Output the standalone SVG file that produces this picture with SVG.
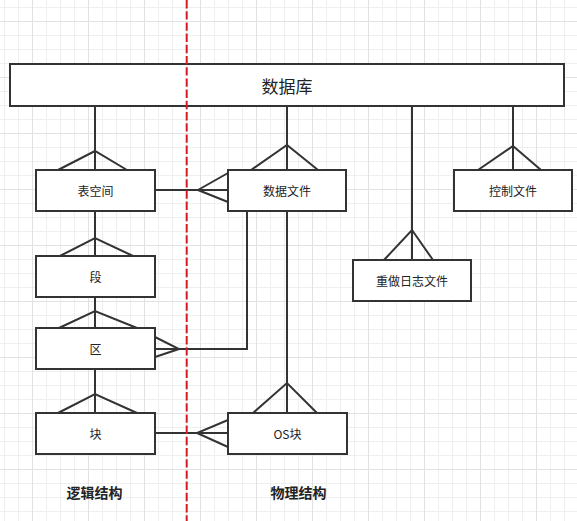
<svg xmlns="http://www.w3.org/2000/svg" width="577" height="521" viewBox="0 0 577 521">
<style>
.box{fill:#ffffff;stroke:#333333;stroke-width:2}
.lbl{font-family:"Noto Sans CJK SC","Microsoft YaHei",sans-serif;font-size:12px;fill:#222222;text-anchor:middle;dominant-baseline:central}
.big{font-size:17px}
.title{font-family:"Noto Sans CJK SC",sans-serif;font-size:14px;font-weight:bold;fill:#222222;text-anchor:middle;dominant-baseline:central}
.conn path{fill:none;stroke:#333333;stroke-width:2;stroke-linejoin:miter}
</style>
<defs>
<pattern id="minor" patternUnits="userSpaceOnUse" x="4" y="7" width="14" height="14">
<path d="M0.5 0V14M0 0.5H14" stroke="#efefef" stroke-width="1" fill="none"/>
</pattern>
<pattern id="major" patternUnits="userSpaceOnUse" x="32" y="21" width="56" height="56">
<path d="M0.5 0V56M0 0.5H56" stroke="#e2e2e2" stroke-width="1" fill="none"/>
</pattern>
</defs>
<rect x="0" y="0" width="577" height="521" fill="#ffffff"/>
<rect x="0" y="0" width="577" height="521" fill="url(#minor)"/>
<rect x="0" y="0" width="577" height="521" fill="url(#major)"/>

<g id="connectors" class="conn">
<path d="M95 106V170M58 170L95 151L127 170"/>
<path d="M287 106V170M251 170L287 145L318 170"/>
<path d="M412 106V260M384 260L412 230L433 260"/>
<path d="M513 106V170M478 170L513 146L541 170"/>
<path d="M155 190H228M228 173L198 190L228 202"/>
<path d="M95 211V256M60 256L95 238L133 256"/>
<path d="M95 297V328M59 328L95 311L137 328"/>
<path d="M95 369V413M58 413L95 394L137 413"/>
<path d="M247 211V349H155M155 337L179 349L155 357"/>
<path d="M287 211V413M253 413L287 383L317 413"/>
<path d="M155 433H228M228 420L197 433L228 447"/>
</g>

<g id="node-db"><rect class="box" x="10" y="64" width="554" height="42"/><text class="lbl big" x="287" y="85">数据库</text></g>
<g id="node-tablespace"><rect class="box" x="36" y="170" width="119" height="41"/><text class="lbl" x="95.5" y="190.5">表空间</text></g>
<g id="node-datafile"><rect class="box" x="228" y="170" width="118" height="41"/><text class="lbl" x="287" y="190.5">数据文件</text></g>
<g id="node-controlfile"><rect class="box" x="454" y="170" width="118" height="41"/><text class="lbl" x="513" y="190.5">控制文件</text></g>
<g id="node-redolog"><rect class="box" x="353" y="260" width="118" height="41"/><text class="lbl" x="412" y="280.5">重做日志文件</text></g>
<g id="node-segment"><rect class="box" x="36" y="256" width="119" height="41"/><text class="lbl" x="95.5" y="276.5">段</text></g>
<g id="node-extent"><rect class="box" x="36" y="328" width="119" height="41"/><text class="lbl" x="95.5" y="348.5">区</text></g>
<g id="node-block"><rect class="box" x="36" y="413" width="119" height="41"/><text class="lbl" x="95.5" y="433.5">块</text></g>
<g id="node-osblock"><rect class="box" x="228" y="413" width="119" height="41"/><text class="lbl" x="287.5" y="433.5">OS块</text></g>

<g id="captions">
<text class="title" x="94.5" y="491.5">逻辑结构</text>
<text class="title" x="298.5" y="491.5">物理结构</text>
</g>

<g id="divider">
<line x1="186.7" y1="0" x2="186.7" y2="521" stroke="#d21c22" stroke-width="2" stroke-dasharray="8.4 2.8"/>
</g>
</svg>
